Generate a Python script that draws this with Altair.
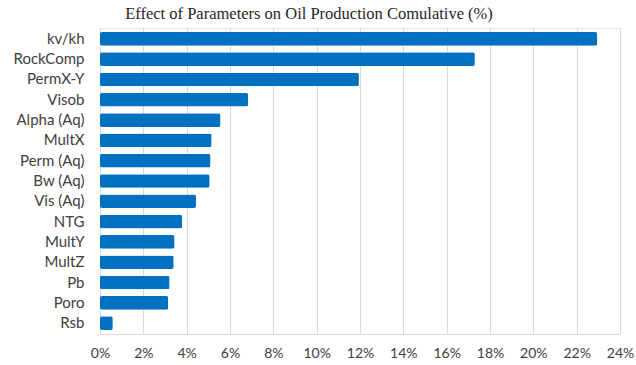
import altair as alt
import pandas as pd

# Sensitivity of cumulative oil production to each parameter (fraction)
parameters = ["kv/kh", "RockComp", "PermX-Y", "Visob", "Alpha (Aq)", "MultX",
              "Perm (Aq)", "Bw (Aq)", "Vis (Aq)", "NTG", "MultY", "MultZ",
              "Pb", "Poro", "Rsb"]
effects = [0.2295, 0.1730, 0.1195, 0.0684, 0.0556, 0.0515,
           0.0510, 0.0506, 0.0443, 0.0379, 0.0344, 0.0340,
           0.0321, 0.0315, 0.0059]
tick_values = [i / 100 for i in range(0, 25, 2)]

df = pd.DataFrame({"parameter": parameters, "effect": effects})

chart = (
    alt.Chart(df)
    .mark_bar(color="#0070C0", cornerRadius=2)
    .encode(
        x=alt.X("effect:Q",
                scale=alt.Scale(domain=[0, 0.24], nice=False),
                axis=alt.Axis(format=".0%", values=tick_values, title=None,
                              grid=True, gridColor="#d9d9d9", domainColor="#d9d9d9",
                              ticks=False, labelPadding=12, labelOverlap=False,
                              labelFlush=False, labelBound=False,
                              labelFontSize=14, labelColor="#404040", labelFont="Lato")),
        y=alt.Y("parameter:N", sort=parameters,
                scale=alt.Scale(paddingInner=0.33, paddingOuter=0.2),
                axis=alt.Axis(title=None, ticks=False, domainColor="#d9d9d9",
                              labelPadding=16, labelFontSize=15,
                              labelColor="#404040", labelFont="Lato")),
    )
    .properties(
        width=520,
        height=306,
        title=alt.TitleParams("Effect of Parameters on Oil Production Comulative (%)",
                              font="Liberation Serif", fontSize=16.5, fontWeight="normal",
                              color="#262626", dx=-51, offset=6),
        autosize=alt.AutoSizeParams(type="none"),
        padding={"left": 100, "top": 28, "right": 16, "bottom": 31},
    )
    .configure_view(stroke="#e6e6e6")
)

chart.save("out.html", embed_options={"renderer": "svg", "actions": False})
